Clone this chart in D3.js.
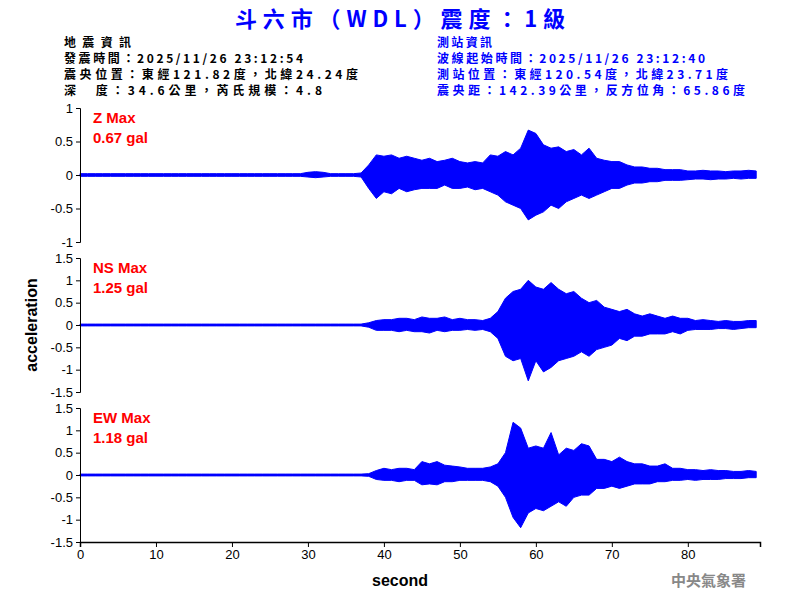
<!DOCTYPE html>
<html><head><meta charset="utf-8">
<script src="https://cdn.jsdelivr.net/npm/d3@7"></script>
<style>
body{margin:0;background:#fff}
text{font-family:Arial,"Liberation Sans",sans-serif}
.cjk{font-family:"Noto Sans CJK TC","Noto Sans CJK SC",sans-serif}
</style></head><body>
<script>
// envelope per second (t = 0..89)
const seconds = d3.range(90);
const zUp = [.02,.02,.02,.02,.02,.02,.02,.02,.02,.02,.02,.02,.02,.02,.02,.02,.02,.02,.02,.02,.02,.02,.02,.02,.02,.02,.02,.02,.02,.02,.04,.05,.04,.02,.02,.02,.02,.03,.15,.3,.28,.3,.25,.28,.25,.22,.25,.2,.22,.25,.2,.18,.2,.18,.3,.28,.35,.3,.4,.67,.62,.45,.4,.42,.35,.38,.3,.4,.25,.22,.2,.2,.15,.12,.12,.1,.1,.08,.08,.08,.06,.06,.07,.06,.06,.05,.06,.06,.07,.06];
const zLo = [-.02,-.02,-.02,-.02,-.02,-.02,-.02,-.02,-.02,-.02,-.02,-.02,-.02,-.02,-.02,-.02,-.02,-.02,-.02,-.02,-.02,-.02,-.02,-.02,-.02,-.02,-.02,-.02,-.02,-.02,-.03,-.04,-.03,-.02,-.02,-.02,-.02,-.03,-.2,-.35,-.25,-.28,-.2,-.25,-.22,-.2,-.2,-.2,-.15,-.2,-.2,-.18,-.22,-.2,-.25,-.3,-.4,-.45,-.5,-.67,-.6,-.55,-.45,-.5,-.4,-.35,-.3,-.35,-.3,-.25,-.2,-.2,-.15,-.12,-.12,-.1,-.1,-.08,-.08,-.08,-.07,-.06,-.06,-.07,-.06,-.06,-.05,-.06,-.05,-.05];
const nsUp = [.02,.02,.02,.02,.02,.02,.02,.02,.02,.02,.02,.02,.02,.02,.02,.02,.02,.02,.02,.02,.02,.02,.02,.02,.02,.02,.02,.02,.02,.02,.02,.02,.02,.02,.02,.02,.02,.02,.05,.1,.12,.12,.15,.15,.12,.18,.15,.15,.18,.12,.15,.12,.12,.1,.15,.3,.6,.75,.8,1.0,.85,.8,.95,.8,.7,.75,.6,.5,.55,.4,.35,.3,.35,.25,.2,.25,.2,.15,.2,.15,.15,.1,.12,.1,.08,.1,.08,.08,.1,.1];
const nsLo = [-.02,-.02,-.02,-.02,-.02,-.02,-.02,-.02,-.02,-.02,-.02,-.02,-.02,-.02,-.02,-.02,-.02,-.02,-.02,-.02,-.02,-.02,-.02,-.02,-.02,-.02,-.02,-.02,-.02,-.02,-.02,-.02,-.02,-.02,-.02,-.02,-.02,-.02,-.05,-.12,-.12,-.12,-.15,-.12,-.15,-.15,-.18,-.12,-.15,-.12,-.12,-.1,-.12,-.1,-.15,-.3,-.7,-.8,-.75,-1.25,-.8,-1.05,-.95,-.8,-.75,-.7,-.6,-.7,-.55,-.5,-.45,-.3,-.35,-.25,-.25,-.2,-.2,-.2,-.15,-.2,-.12,-.1,-.1,-.1,-.08,-.08,-.1,-.08,-.06,-.06];
const ewUp = [.02,.02,.02,.02,.02,.02,.02,.02,.02,.02,.02,.02,.02,.02,.02,.02,.02,.02,.02,.02,.02,.02,.02,.02,.02,.02,.02,.02,.02,.02,.02,.02,.02,.02,.02,.02,.02,.02,.03,.1,.15,.12,.15,.15,.12,.3,.25,.3,.22,.2,.18,.15,.15,.15,.18,.25,.5,1.18,1.05,.6,.65,.6,.95,.45,.6,.55,.7,.65,.35,.35,.3,.4,.3,.25,.25,.2,.2,.25,.15,.15,.12,.12,.1,.12,.1,.1,.08,.08,.1,.08];
const ewLo = [-.02,-.02,-.02,-.02,-.02,-.02,-.02,-.02,-.02,-.02,-.02,-.02,-.02,-.02,-.02,-.02,-.02,-.02,-.02,-.02,-.02,-.02,-.02,-.02,-.02,-.02,-.02,-.02,-.02,-.02,-.02,-.02,-.02,-.02,-.02,-.02,-.02,-.02,-.03,-.1,-.12,-.12,-.15,-.12,-.12,-.22,-.2,-.22,-.15,-.15,-.12,-.12,-.12,-.12,-.15,-.25,-.5,-.95,-1.18,-.85,-.75,-.8,-.7,-.6,-.7,-.5,-.45,-.45,-.3,-.3,-.25,-.3,-.25,-.2,-.2,-.2,-.15,-.15,-.12,-.12,-.1,-.12,-.1,-.1,-.1,-.08,-.08,-.08,-.06,-.06];

const xTicks = d3.range(0, 81, 10);
const zTicks = [-1, -0.5, 0, 0.5, 1];
const hTicks = [-1.5, -1, -0.5, 0, 0.5, 1, 1.5];

const panels = [
  {name: "Z Max", peak: "0.67 gal", up: zUp, lo: zLo, lim: 1, ticks: zTicks, top: 108},
  {name: "NS Max", peak: "1.25 gal", up: nsUp, lo: nsLo, lim: 1.5, ticks: hTicks, top: 258},
  {name: "EW Max", peak: "1.18 gal", up: ewUp, lo: ewLo, lim: 1.5, ticks: hTicks, top: 408}
];

const svg = d3.select("body").append("svg").attr("width", 800).attr("height", 600);
const x = d3.scaleLinear().domain([0, 89.5]).range([80, 760]);
const ph = 134;

svg.append("text").attr("class", "cjk").attr("x", 400).attr("y", 27).attr("text-anchor", "middle")
  .attr("fill", "#0000ff").attr("font-size", 22).attr("font-weight", "bold")
  .attr("textLength", 330).text("斗六市（WDL）震度：1級");

const left = ["地震資訊", "發震時間：2025/11/26 23:12:54", "震央位置：東經121.82度，北緯24.24度", "深　度：34.6公里，芮氏規模：4.8"];
const right = ["測站資訊", "波線起始時間：2025/11/26 23:12:40", "測站位置：東經120.54度，北緯23.71度", "震央距：142.39公里，反方位角：65.86度"];
const leftW = [67, 239, 294, 258];
const rightW = [55, 268, 291, 308];
[[left, leftW, 64, "#000"], [right, rightW, 437, "#0000ff"]].forEach(([lines, ws, lx, col]) => {
  svg.append("g").selectAll("text").data(lines).join("text").attr("class", "cjk")
    .attr("x", lx).attr("y", (d, i) => 47 + i * 16).attr("font-size", 12).attr("font-weight", "bold")
    .attr("textLength", (d, i) => ws[i]).attr("fill", col).text(d => d);
});

panels.forEach(p => {
  const y = d3.scaleLinear().domain([-p.lim, p.lim]).range([p.top + ph, p.top]);
  const g = svg.append("g");
  g.append("path").datum(seconds)
    .attr("d", d3.area().x(t => x(t)).y0(t => y(p.lo[t])).y1(t => y(p.up[t])))
    .attr("fill", "#0000ff").attr("stroke", "#0000ff").attr("stroke-width", 1);
  g.append("g").attr("transform", "translate(80,0)")
    .call(d3.axisLeft(y).tickValues(p.ticks).tickFormat(d => String(d)).tickSizeOuter(0).tickSize(4))
    .call(a => a.selectAll("text").attr("font-size", 13).attr("fill", "#000"))
    .call(a => a.select(".domain").attr("stroke", "#000"));
  g.append("text").attr("x", 93).attr("y", p.top + 15).attr("fill", "#ff0000").attr("font-size", 15)
    .attr("font-weight", "bold").text(p.name);
  g.append("text").attr("x", 93).attr("y", p.top + 35).attr("fill", "#ff0000").attr("font-size", 15)
    .attr("font-weight", "bold").text(p.peak);
});

svg.append("g").attr("transform", "translate(0,542)")
  .call(d3.axisBottom(x).tickValues(xTicks).tickSizeOuter(0).tickSize(5))
  .call(a => a.selectAll("text").attr("font-size", 13).attr("fill", "#000"))
  .call(a => a.select(".domain").attr("stroke", "#000").attr("stroke-width", 1.5));

svg.append("text").attr("x", 400).attr("y", 586).attr("text-anchor", "middle")
  .attr("font-size", 16).attr("font-weight", "bold").text("second");
svg.append("text").attr("transform", "translate(37,325) rotate(-90)").attr("text-anchor", "middle")
  .attr("font-size", 16).attr("font-weight", "bold").text("acceleration");
svg.append("text").attr("class", "cjk").attr("x", 746).attr("y", 586).attr("text-anchor", "end")
  .attr("font-size", 15).attr("font-weight", "bold").attr("fill", "#888").text("中央氣象署");
</script></body></html>
